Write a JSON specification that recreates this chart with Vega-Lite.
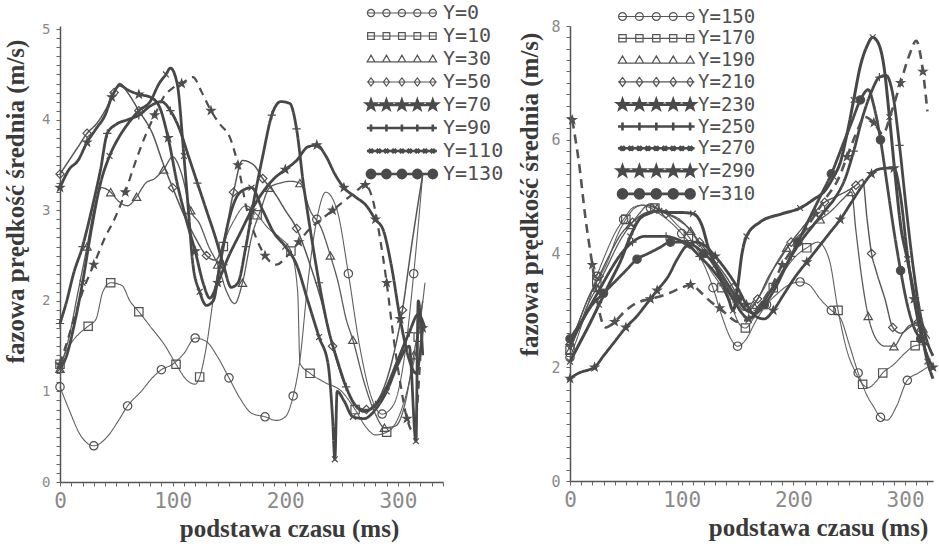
{
"$schema":"https://vega.github.io/schema/vega-lite/v6.json",
"padding":{"left":3,"top":3,"right":6,"bottom":5},
"background":"white",
"bounds":"flush",
"spacing":127,
"config":{"view":{"stroke":null},
"axis":{"grid":false,"domainColor":"#555","domainWidth":1.5,"tickColor":"#666","tickWidth":1,"tickSize":4,"labelFont":"DejaVu Sans Mono","labelColor":"#8a8a8a","titleFont":"Liberation Serif","titleFontWeight":"bold","titleFontSize":25,"titleColor":"#3a3a3a","labelFlush":false}},
"datasets":{
"left":[
{"s":"Y=0","i":0,"t":0,"v":1.05},{"s":"Y=0","i":1,"t":8,"v":0.8},{"s":"Y=0","i":2,"t":18,"v":0.52},{"s":"Y=0","i":3,"t":30,"v":0.4},{"s":"Y=0","i":4,"t":42,"v":0.5},{"s":"Y=0","i":5,"t":52,"v":0.68},{"s":"Y=0","i":6,"t":60,"v":0.84},{"s":"Y=0","i":7,"t":72,"v":1.0},{"s":"Y=0","i":8,"t":82,"v":1.15},{"s":"Y=0","i":9,"t":90,"v":1.24},{"s":"Y=0","i":10,"t":100,"v":1.3},{"s":"Y=0","i":11,"t":110,"v":1.42},{"s":"Y=0","i":12,"t":120,"v":1.59},{"s":"Y=0","i":13,"t":130,"v":1.55},{"s":"Y=0","i":14,"t":140,"v":1.38},{"s":"Y=0","i":15,"t":150,"v":1.15},{"s":"Y=0","i":16,"t":160,"v":0.92},{"s":"Y=0","i":17,"t":170,"v":0.76},{"s":"Y=0","i":18,"t":182,"v":0.72},{"s":"Y=0","i":19,"t":192,"v":0.68},{"s":"Y=0","i":20,"t":200,"v":0.72},{"s":"Y=0","i":21,"t":207,"v":0.95},{"s":"Y=0","i":22,"t":213,"v":1.35},{"s":"Y=0","i":23,"t":220,"v":2.2},{"s":"Y=0","i":24,"t":228,"v":2.9},{"s":"Y=0","i":25,"t":236,"v":3.2},{"s":"Y=0","i":26,"t":246,"v":3.0},{"s":"Y=0","i":27,"t":256,"v":2.3},{"s":"Y=0","i":28,"t":266,"v":1.5},{"s":"Y=0","i":29,"t":276,"v":0.95},{"s":"Y=0","i":30,"t":286,"v":0.75},{"s":"Y=0","i":31,"t":296,"v":0.85},{"s":"Y=0","i":32,"t":306,"v":1.4},{"s":"Y=0","i":33,"t":314,"v":2.3},{"s":"Y=0","i":34,"t":322,"v":3.4},
{"s":"Y=10","i":0,"t":0,"v":1.3},{"s":"Y=10","i":1,"t":8,"v":1.5},{"s":"Y=10","i":2,"t":18,"v":1.65},{"s":"Y=10","i":3,"t":25,"v":1.72},{"s":"Y=10","i":4,"t":32,"v":1.8},{"s":"Y=10","i":5,"t":38,"v":2.1},{"s":"Y=10","i":6,"t":45,"v":2.2},{"s":"Y=10","i":7,"t":55,"v":2.17},{"s":"Y=10","i":8,"t":62,"v":2.0},{"s":"Y=10","i":9,"t":70,"v":1.88},{"s":"Y=10","i":10,"t":80,"v":1.72},{"s":"Y=10","i":11,"t":93,"v":1.51},{"s":"Y=10","i":12,"t":103,"v":1.3},{"s":"Y=10","i":13,"t":113,"v":1.12},{"s":"Y=10","i":14,"t":120,"v":1.08},{"s":"Y=10","i":15,"t":124,"v":1.16},{"s":"Y=10","i":16,"t":130,"v":1.5},{"s":"Y=10","i":17,"t":137,"v":2.1},{"s":"Y=10","i":18,"t":145,"v":2.6},{"s":"Y=10","i":19,"t":155,"v":2.9},{"s":"Y=10","i":20,"t":165,"v":3.05},{"s":"Y=10","i":21,"t":175,"v":2.95},{"s":"Y=10","i":22,"t":185,"v":2.8},{"s":"Y=10","i":23,"t":195,"v":2.7},{"s":"Y=10","i":24,"t":205,"v":2.55},{"s":"Y=10","i":25,"t":211,"v":2.1},{"s":"Y=10","i":26,"t":213,"v":1.31},{"s":"Y=10","i":27,"t":222,"v":1.2},{"s":"Y=10","i":28,"t":235,"v":1.1},{"s":"Y=10","i":29,"t":250,"v":1.0},{"s":"Y=10","i":30,"t":262,"v":0.8},{"s":"Y=10","i":31,"t":272,"v":0.6},{"s":"Y=10","i":32,"t":280,"v":0.52},{"s":"Y=10","i":33,"t":290,"v":0.55},{"s":"Y=10","i":34,"t":300,"v":0.7},{"s":"Y=10","i":35,"t":310,"v":1.1},{"s":"Y=10","i":36,"t":318,"v":1.6},{"s":"Y=10","i":37,"t":324,"v":2.2},
{"s":"Y=30","i":0,"t":0,"v":1.25},{"s":"Y=30","i":1,"t":8,"v":1.6},{"s":"Y=30","i":2,"t":16,"v":2.1},{"s":"Y=30","i":3,"t":24,"v":2.6},{"s":"Y=30","i":4,"t":30,"v":3.0},{"s":"Y=30","i":5,"t":37,"v":3.25},{"s":"Y=30","i":6,"t":45,"v":3.2},{"s":"Y=30","i":7,"t":52,"v":3.1},{"s":"Y=30","i":8,"t":60,"v":3.05},{"s":"Y=30","i":9,"t":68,"v":3.15},{"s":"Y=30","i":10,"t":76,"v":3.3},{"s":"Y=30","i":11,"t":84,"v":3.35},{"s":"Y=30","i":12,"t":92,"v":3.45},{"s":"Y=30","i":13,"t":100,"v":3.59},{"s":"Y=30","i":14,"t":108,"v":3.4},{"s":"Y=30","i":15,"t":116,"v":3.0},{"s":"Y=30","i":16,"t":124,"v":2.85},{"s":"Y=30","i":17,"t":132,"v":2.6},{"s":"Y=30","i":18,"t":140,"v":2.4},{"s":"Y=30","i":19,"t":148,"v":2.1},{"s":"Y=30","i":20,"t":155,"v":1.97},{"s":"Y=30","i":21,"t":162,"v":2.2},{"s":"Y=30","i":22,"t":170,"v":2.7},{"s":"Y=30","i":23,"t":178,"v":3.0},{"s":"Y=30","i":24,"t":186,"v":3.25},{"s":"Y=30","i":25,"t":195,"v":3.3},{"s":"Y=30","i":26,"t":205,"v":3.32},{"s":"Y=30","i":27,"t":213,"v":3.3},{"s":"Y=30","i":28,"t":222,"v":3.0},{"s":"Y=30","i":29,"t":232,"v":2.8},{"s":"Y=30","i":30,"t":240,"v":2.5},{"s":"Y=30","i":31,"t":247,"v":2.2},{"s":"Y=30","i":32,"t":254,"v":1.8},{"s":"Y=30","i":33,"t":260,"v":1.57},{"s":"Y=30","i":34,"t":270,"v":1.1},{"s":"Y=30","i":35,"t":280,"v":0.75},{"s":"Y=30","i":36,"t":288,"v":0.6},{"s":"Y=30","i":37,"t":298,"v":0.62},{"s":"Y=30","i":38,"t":306,"v":0.85},{"s":"Y=30","i":39,"t":314,"v":1.4},{"s":"Y=30","i":40,"t":322,"v":2.0},
{"s":"Y=50","i":0,"t":0,"v":3.4},{"s":"Y=50","i":1,"t":8,"v":3.55},{"s":"Y=50","i":2,"t":16,"v":3.7},{"s":"Y=50","i":3,"t":24,"v":3.85},{"s":"Y=50","i":4,"t":32,"v":3.95},{"s":"Y=50","i":5,"t":40,"v":4.1},{"s":"Y=50","i":6,"t":48,"v":4.3},{"s":"Y=50","i":7,"t":53,"v":4.4},{"s":"Y=50","i":8,"t":60,"v":4.3},{"s":"Y=50","i":9,"t":70,"v":4.1},{"s":"Y=50","i":10,"t":82,"v":3.85},{"s":"Y=50","i":11,"t":92,"v":3.5},{"s":"Y=50","i":12,"t":100,"v":3.25},{"s":"Y=50","i":13,"t":110,"v":2.95},{"s":"Y=50","i":14,"t":120,"v":2.7},{"s":"Y=50","i":15,"t":130,"v":2.5},{"s":"Y=50","i":16,"t":138,"v":2.45},{"s":"Y=50","i":17,"t":146,"v":2.7},{"s":"Y=50","i":18,"t":154,"v":3.2},{"s":"Y=50","i":19,"t":162,"v":3.55},{"s":"Y=50","i":20,"t":172,"v":3.5},{"s":"Y=50","i":21,"t":180,"v":3.35},{"s":"Y=50","i":22,"t":190,"v":3.2},{"s":"Y=50","i":23,"t":200,"v":3.0},{"s":"Y=50","i":24,"t":210,"v":2.8},{"s":"Y=50","i":25,"t":222,"v":2.4},{"s":"Y=50","i":26,"t":232,"v":2.0},{"s":"Y=50","i":27,"t":242,"v":1.5},{"s":"Y=50","i":28,"t":252,"v":1.1},{"s":"Y=50","i":29,"t":262,"v":0.85},{"s":"Y=50","i":30,"t":272,"v":0.8},{"s":"Y=50","i":31,"t":282,"v":0.9},{"s":"Y=50","i":32,"t":294,"v":1.3},{"s":"Y=50","i":33,"t":304,"v":1.9},{"s":"Y=50","i":34,"t":312,"v":2.6},{"s":"Y=50","i":35,"t":322,"v":3.4},
{"s":"Y=70","i":0,"t":0,"v":3.25},{"s":"Y=70","i":1,"t":8,"v":3.45},{"s":"Y=70","i":2,"t":16,"v":3.55},{"s":"Y=70","i":3,"t":24,"v":3.75},{"s":"Y=70","i":4,"t":32,"v":3.9},{"s":"Y=70","i":5,"t":40,"v":4.05},{"s":"Y=70","i":6,"t":46,"v":4.25},{"s":"Y=70","i":7,"t":53,"v":4.38},{"s":"Y=70","i":8,"t":60,"v":4.33},{"s":"Y=70","i":9,"t":70,"v":4.28},{"s":"Y=70","i":10,"t":80,"v":4.25},{"s":"Y=70","i":11,"t":88,"v":4.15},{"s":"Y=70","i":12,"t":96,"v":3.8},{"s":"Y=70","i":13,"t":104,"v":3.3},{"s":"Y=70","i":14,"t":112,"v":2.9},{"s":"Y=70","i":15,"t":120,"v":2.55},{"s":"Y=70","i":16,"t":127,"v":2.2},{"s":"Y=70","i":17,"t":133,"v":2.03},{"s":"Y=70","i":18,"t":140,"v":2.2},{"s":"Y=70","i":19,"t":150,"v":2.5},{"s":"Y=70","i":20,"t":160,"v":2.75},{"s":"Y=70","i":21,"t":170,"v":3.0},{"s":"Y=70","i":22,"t":180,"v":3.2},{"s":"Y=70","i":23,"t":190,"v":3.35},{"s":"Y=70","i":24,"t":200,"v":3.45},{"s":"Y=70","i":25,"t":210,"v":3.55},{"s":"Y=70","i":26,"t":220,"v":3.7},{"s":"Y=70","i":27,"t":228,"v":3.72},{"s":"Y=70","i":28,"t":236,"v":3.6},{"s":"Y=70","i":29,"t":244,"v":3.4},{"s":"Y=70","i":30,"t":252,"v":3.25},{"s":"Y=70","i":31,"t":262,"v":3.15},{"s":"Y=70","i":32,"t":272,"v":3.05},{"s":"Y=70","i":33,"t":280,"v":2.9},{"s":"Y=70","i":34,"t":287,"v":2.78},{"s":"Y=70","i":35,"t":294,"v":2.4},{"s":"Y=70","i":36,"t":302,"v":1.8},{"s":"Y=70","i":37,"t":310,"v":1.35},{"s":"Y=70","i":38,"t":316,"v":1.2},{"s":"Y=70","i":39,"t":322,"v":1.7},
{"s":"Y=90","i":0,"t":0,"v":1.75},{"s":"Y=90","i":1,"t":6,"v":2.0},{"s":"Y=90","i":2,"t":12,"v":2.3},{"s":"Y=90","i":3,"t":20,"v":2.6},{"s":"Y=90","i":4,"t":28,"v":3.0},{"s":"Y=90","i":5,"t":36,"v":3.45},{"s":"Y=90","i":6,"t":42,"v":3.85},{"s":"Y=90","i":7,"t":50,"v":3.95},{"s":"Y=90","i":8,"t":60,"v":4.0},{"s":"Y=90","i":9,"t":70,"v":4.05},{"s":"Y=90","i":10,"t":80,"v":4.15},{"s":"Y=90","i":11,"t":90,"v":4.2},{"s":"Y=90","i":12,"t":98,"v":4.1},{"s":"Y=90","i":13,"t":106,"v":3.9},{"s":"Y=90","i":14,"t":114,"v":3.6},{"s":"Y=90","i":15,"t":122,"v":3.3},{"s":"Y=90","i":16,"t":130,"v":3.0},{"s":"Y=90","i":17,"t":138,"v":2.7},{"s":"Y=90","i":18,"t":145,"v":2.4},{"s":"Y=90","i":19,"t":152,"v":2.15},{"s":"Y=90","i":20,"t":158,"v":2.2},{"s":"Y=90","i":21,"t":165,"v":2.6},{"s":"Y=90","i":22,"t":172,"v":3.1},{"s":"Y=90","i":23,"t":180,"v":3.6},{"s":"Y=90","i":24,"t":188,"v":4.05},{"s":"Y=90","i":25,"t":196,"v":4.2},{"s":"Y=90","i":26,"t":204,"v":4.18},{"s":"Y=90","i":27,"t":210,"v":3.9},{"s":"Y=90","i":28,"t":216,"v":3.3},{"s":"Y=90","i":29,"t":222,"v":2.8},{"s":"Y=90","i":30,"t":230,"v":2.2},{"s":"Y=90","i":31,"t":238,"v":1.7},{"s":"Y=90","i":32,"t":246,"v":1.35},{"s":"Y=90","i":33,"t":254,"v":1.05},{"s":"Y=90","i":34,"t":262,"v":0.85},{"s":"Y=90","i":35,"t":270,"v":0.78},{"s":"Y=90","i":36,"t":280,"v":0.85},{"s":"Y=90","i":37,"t":290,"v":1.05},{"s":"Y=90","i":38,"t":300,"v":1.35},{"s":"Y=90","i":39,"t":310,"v":1.65},{"s":"Y=90","i":40,"t":318,"v":1.85},{"s":"Y=90","i":41,"t":324,"v":1.7},
{"s":"Y=110","i":0,"t":0,"v":1.25},{"s":"Y=110","i":1,"t":6,"v":1.4},{"s":"Y=110","i":2,"t":12,"v":1.7},{"s":"Y=110","i":3,"t":20,"v":2.2},{"s":"Y=110","i":4,"t":28,"v":2.8},{"s":"Y=110","i":5,"t":36,"v":3.3},{"s":"Y=110","i":6,"t":44,"v":3.6},{"s":"Y=110","i":7,"t":52,"v":3.8},{"s":"Y=110","i":8,"t":60,"v":3.95},{"s":"Y=110","i":9,"t":70,"v":4.1},{"s":"Y=110","i":10,"t":80,"v":4.2},{"s":"Y=110","i":11,"t":88,"v":4.4},{"s":"Y=110","i":12,"t":94,"v":4.5},{"s":"Y=110","i":13,"t":98,"v":4.57},{"s":"Y=110","i":14,"t":104,"v":4.4},{"s":"Y=110","i":15,"t":110,"v":3.6},{"s":"Y=110","i":16,"t":114,"v":3.0},{"s":"Y=110","i":17,"t":118,"v":2.4},{"s":"Y=110","i":18,"t":124,"v":2.1},{"s":"Y=110","i":19,"t":130,"v":1.95},{"s":"Y=110","i":20,"t":136,"v":2.0},{"s":"Y=110","i":21,"t":142,"v":2.4},{"s":"Y=110","i":22,"t":150,"v":2.9},{"s":"Y=110","i":23,"t":160,"v":3.2},{"s":"Y=110","i":24,"t":170,"v":3.25},{"s":"Y=110","i":25,"t":180,"v":3.0},{"s":"Y=110","i":26,"t":190,"v":2.75},{"s":"Y=110","i":27,"t":200,"v":2.6},{"s":"Y=110","i":28,"t":210,"v":2.4},{"s":"Y=110","i":29,"t":220,"v":2.0},{"s":"Y=110","i":30,"t":230,"v":1.6},{"s":"Y=110","i":31,"t":238,"v":1.3},{"s":"Y=110","i":32,"t":242,"v":0.7},{"s":"Y=110","i":33,"t":244,"v":0.25},{"s":"Y=110","i":34,"t":246,"v":1.0},{"s":"Y=110","i":35,"t":252,"v":0.9},{"s":"Y=110","i":36,"t":260,"v":0.72},{"s":"Y=110","i":37,"t":270,"v":0.7},{"s":"Y=110","i":38,"t":280,"v":0.8},{"s":"Y=110","i":39,"t":290,"v":1.0},{"s":"Y=110","i":40,"t":300,"v":1.3},{"s":"Y=110","i":41,"t":310,"v":1.5},{"s":"Y=110","i":42,"t":316,"v":0.45},{"s":"Y=110","i":43,"t":318,"v":2.0},{"s":"Y=110","i":44,"t":322,"v":1.4},
{"s":"Y=130","i":0,"t":0,"v":1.3},{"s":"Y=130","i":1,"t":10,"v":1.7},{"s":"Y=130","i":2,"t":20,"v":2.1},{"s":"Y=130","i":3,"t":30,"v":2.4},{"s":"Y=130","i":4,"t":40,"v":2.7},{"s":"Y=130","i":5,"t":49,"v":2.92},{"s":"Y=130","i":6,"t":58,"v":3.2},{"s":"Y=130","i":7,"t":66,"v":3.5},{"s":"Y=130","i":8,"t":75,"v":3.8},{"s":"Y=130","i":9,"t":84,"v":4.05},{"s":"Y=130","i":10,"t":92,"v":4.25},{"s":"Y=130","i":11,"t":100,"v":4.35},{"s":"Y=130","i":12,"t":108,"v":4.4},{"s":"Y=130","i":13,"t":118,"v":4.47},{"s":"Y=130","i":14,"t":126,"v":4.3},{"s":"Y=130","i":15,"t":134,"v":4.1},{"s":"Y=130","i":16,"t":142,"v":3.95},{"s":"Y=130","i":17,"t":151,"v":3.8},{"s":"Y=130","i":18,"t":158,"v":3.5},{"s":"Y=130","i":19,"t":166,"v":3.0},{"s":"Y=130","i":20,"t":174,"v":2.7},{"s":"Y=130","i":21,"t":182,"v":2.5},{"s":"Y=130","i":22,"t":192,"v":2.4},{"s":"Y=130","i":23,"t":202,"v":2.5},{"s":"Y=130","i":24,"t":212,"v":2.65},{"s":"Y=130","i":25,"t":222,"v":2.8},{"s":"Y=130","i":26,"t":232,"v":2.9},{"s":"Y=130","i":27,"t":242,"v":3.0},{"s":"Y=130","i":28,"t":252,"v":3.1},{"s":"Y=130","i":29,"t":262,"v":3.2},{"s":"Y=130","i":30,"t":271,"v":3.28},{"s":"Y=130","i":31,"t":278,"v":3.1},{"s":"Y=130","i":32,"t":284,"v":2.7},{"s":"Y=130","i":33,"t":290,"v":2.2},{"s":"Y=130","i":34,"t":296,"v":1.6},{"s":"Y=130","i":35,"t":302,"v":1.1},{"s":"Y=130","i":36,"t":308,"v":0.7},{"s":"Y=130","i":37,"t":314,"v":0.55},{"s":"Y=130","i":38,"t":320,"v":1.4}
],
"right":[
{"s":"Y=150","i":0,"t":0,"v":2.17},{"s":"Y=150","i":1,"t":8,"v":2.6},{"s":"Y=150","i":2,"t":16,"v":3.1},{"s":"Y=150","i":3,"t":24,"v":3.6},{"s":"Y=150","i":4,"t":32,"v":4.0},{"s":"Y=150","i":5,"t":40,"v":4.35},{"s":"Y=150","i":6,"t":48,"v":4.6},{"s":"Y=150","i":7,"t":56,"v":4.8},{"s":"Y=150","i":8,"t":64,"v":4.85},{"s":"Y=150","i":9,"t":72,"v":4.8},{"s":"Y=150","i":10,"t":80,"v":4.7},{"s":"Y=150","i":11,"t":90,"v":4.55},{"s":"Y=150","i":12,"t":100,"v":4.35},{"s":"Y=150","i":13,"t":110,"v":4.1},{"s":"Y=150","i":14,"t":120,"v":3.8},{"s":"Y=150","i":15,"t":128,"v":3.4},{"s":"Y=150","i":16,"t":136,"v":2.9},{"s":"Y=150","i":17,"t":144,"v":2.5},{"s":"Y=150","i":18,"t":150,"v":2.37},{"s":"Y=150","i":19,"t":158,"v":2.5},{"s":"Y=150","i":20,"t":166,"v":2.8},{"s":"Y=150","i":21,"t":176,"v":3.1},{"s":"Y=150","i":22,"t":186,"v":3.3},{"s":"Y=150","i":23,"t":196,"v":3.45},{"s":"Y=150","i":24,"t":206,"v":3.5},{"s":"Y=150","i":25,"t":214,"v":3.45},{"s":"Y=150","i":26,"t":224,"v":3.2},{"s":"Y=150","i":27,"t":234,"v":3.0},{"s":"Y=150","i":28,"t":242,"v":2.87},{"s":"Y=150","i":29,"t":250,"v":2.4},{"s":"Y=150","i":30,"t":258,"v":1.9},{"s":"Y=150","i":31,"t":266,"v":1.5},{"s":"Y=150","i":32,"t":272,"v":1.3},{"s":"Y=150","i":33,"t":278,"v":1.12},{"s":"Y=150","i":34,"t":284,"v":1.07},{"s":"Y=150","i":35,"t":292,"v":1.3},{"s":"Y=150","i":36,"t":302,"v":1.77},{"s":"Y=150","i":37,"t":312,"v":1.9},{"s":"Y=150","i":38,"t":320,"v":2.0},
{"s":"Y=170","i":0,"t":0,"v":2.3},{"s":"Y=170","i":1,"t":8,"v":2.8},{"s":"Y=170","i":2,"t":16,"v":3.2},{"s":"Y=170","i":3,"t":24,"v":3.5},{"s":"Y=170","i":4,"t":33,"v":3.83},{"s":"Y=170","i":5,"t":42,"v":4.3},{"s":"Y=170","i":6,"t":50,"v":4.6},{"s":"Y=170","i":7,"t":58,"v":4.8},{"s":"Y=170","i":8,"t":66,"v":4.85},{"s":"Y=170","i":9,"t":76,"v":4.8},{"s":"Y=170","i":10,"t":86,"v":4.7},{"s":"Y=170","i":11,"t":96,"v":4.5},{"s":"Y=170","i":12,"t":106,"v":4.3},{"s":"Y=170","i":13,"t":116,"v":4.0},{"s":"Y=170","i":14,"t":126,"v":3.7},{"s":"Y=170","i":15,"t":136,"v":3.4},{"s":"Y=170","i":16,"t":146,"v":3.0},{"s":"Y=170","i":17,"t":152,"v":2.75},{"s":"Y=170","i":18,"t":157,"v":2.69},{"s":"Y=170","i":19,"t":164,"v":2.85},{"s":"Y=170","i":20,"t":172,"v":3.1},{"s":"Y=170","i":21,"t":182,"v":3.4},{"s":"Y=170","i":22,"t":192,"v":3.7},{"s":"Y=170","i":23,"t":202,"v":3.95},{"s":"Y=170","i":24,"t":212,"v":4.1},{"s":"Y=170","i":25,"t":222,"v":4.2},{"s":"Y=170","i":26,"t":232,"v":3.9},{"s":"Y=170","i":27,"t":240,"v":3.0},{"s":"Y=170","i":28,"t":248,"v":2.29},{"s":"Y=170","i":29,"t":256,"v":1.9},{"s":"Y=170","i":30,"t":262,"v":1.7},{"s":"Y=170","i":31,"t":267,"v":1.64},{"s":"Y=170","i":32,"t":274,"v":1.75},{"s":"Y=170","i":33,"t":280,"v":1.9},{"s":"Y=170","i":34,"t":290,"v":2.05},{"s":"Y=170","i":35,"t":300,"v":2.25},{"s":"Y=170","i":36,"t":309,"v":2.38},{"s":"Y=170","i":37,"t":318,"v":2.4},
{"s":"Y=190","i":0,"t":0,"v":2.3},{"s":"Y=190","i":1,"t":8,"v":2.7},{"s":"Y=190","i":2,"t":16,"v":3.1},{"s":"Y=190","i":3,"t":24,"v":3.4},{"s":"Y=190","i":4,"t":34,"v":3.8},{"s":"Y=190","i":5,"t":44,"v":4.2},{"s":"Y=190","i":6,"t":54,"v":4.5},{"s":"Y=190","i":7,"t":62,"v":4.7},{"s":"Y=190","i":8,"t":70,"v":4.85},{"s":"Y=190","i":9,"t":78,"v":4.8},{"s":"Y=190","i":10,"t":88,"v":4.7},{"s":"Y=190","i":11,"t":98,"v":4.6},{"s":"Y=190","i":12,"t":108,"v":4.4},{"s":"Y=190","i":13,"t":118,"v":4.1},{"s":"Y=190","i":14,"t":128,"v":3.8},{"s":"Y=190","i":15,"t":138,"v":3.5},{"s":"Y=190","i":16,"t":148,"v":3.2},{"s":"Y=190","i":17,"t":156,"v":3.0},{"s":"Y=190","i":18,"t":164,"v":3.1},{"s":"Y=190","i":19,"t":174,"v":3.4},{"s":"Y=190","i":20,"t":184,"v":3.8},{"s":"Y=190","i":21,"t":194,"v":4.1},{"s":"Y=190","i":22,"t":204,"v":4.3},{"s":"Y=190","i":23,"t":214,"v":4.45},{"s":"Y=190","i":24,"t":224,"v":4.6},{"s":"Y=190","i":25,"t":234,"v":4.75},{"s":"Y=190","i":26,"t":244,"v":4.95},{"s":"Y=190","i":27,"t":252,"v":5.08},{"s":"Y=190","i":28,"t":256,"v":4.4},{"s":"Y=190","i":29,"t":261,"v":3.6},{"s":"Y=190","i":30,"t":267,"v":2.9},{"s":"Y=190","i":31,"t":274,"v":2.5},{"s":"Y=190","i":32,"t":282,"v":2.37},{"s":"Y=190","i":33,"t":290,"v":2.37},{"s":"Y=190","i":34,"t":298,"v":2.6},{"s":"Y=190","i":35,"t":306,"v":2.75},{"s":"Y=190","i":36,"t":314,"v":2.7},{"s":"Y=190","i":37,"t":322,"v":2.5},
{"s":"Y=210","i":0,"t":0,"v":2.4},{"s":"Y=210","i":1,"t":8,"v":2.8},{"s":"Y=210","i":2,"t":16,"v":3.2},{"s":"Y=210","i":3,"t":26,"v":3.6},{"s":"Y=210","i":4,"t":36,"v":4.0},{"s":"Y=210","i":5,"t":46,"v":4.35},{"s":"Y=210","i":6,"t":56,"v":4.55},{"s":"Y=210","i":7,"t":66,"v":4.7},{"s":"Y=210","i":8,"t":76,"v":4.75},{"s":"Y=210","i":9,"t":86,"v":4.7},{"s":"Y=210","i":10,"t":96,"v":4.6},{"s":"Y=210","i":11,"t":106,"v":4.45},{"s":"Y=210","i":12,"t":116,"v":4.2},{"s":"Y=210","i":13,"t":126,"v":3.95},{"s":"Y=210","i":14,"t":136,"v":3.7},{"s":"Y=210","i":15,"t":146,"v":3.4},{"s":"Y=210","i":16,"t":154,"v":3.1},{"s":"Y=210","i":17,"t":160,"v":3.0},{"s":"Y=210","i":18,"t":168,"v":3.2},{"s":"Y=210","i":19,"t":178,"v":3.6},{"s":"Y=210","i":20,"t":188,"v":3.9},{"s":"Y=210","i":21,"t":198,"v":4.2},{"s":"Y=210","i":22,"t":208,"v":4.45},{"s":"Y=210","i":23,"t":218,"v":4.7},{"s":"Y=210","i":24,"t":228,"v":4.9},{"s":"Y=210","i":25,"t":238,"v":5.0},{"s":"Y=210","i":26,"t":248,"v":5.1},{"s":"Y=210","i":27,"t":256,"v":5.2},{"s":"Y=210","i":28,"t":262,"v":5.3},{"s":"Y=210","i":29,"t":266,"v":4.6},{"s":"Y=210","i":30,"t":270,"v":4.0},{"s":"Y=210","i":31,"t":274,"v":3.7},{"s":"Y=210","i":32,"t":282,"v":3.2},{"s":"Y=210","i":33,"t":289,"v":2.7},{"s":"Y=210","i":34,"t":296,"v":2.6},{"s":"Y=210","i":35,"t":304,"v":2.7},{"s":"Y=210","i":36,"t":312,"v":2.8},{"s":"Y=210","i":37,"t":320,"v":2.6},
{"s":"Y=230","i":0,"t":0,"v":1.8},{"s":"Y=230","i":1,"t":8,"v":1.9},{"s":"Y=230","i":2,"t":16,"v":1.95},{"s":"Y=230","i":3,"t":22,"v":2.0},{"s":"Y=230","i":4,"t":30,"v":2.2},{"s":"Y=230","i":5,"t":40,"v":2.45},{"s":"Y=230","i":6,"t":50,"v":2.7},{"s":"Y=230","i":7,"t":60,"v":2.9},{"s":"Y=230","i":8,"t":68,"v":3.1},{"s":"Y=230","i":9,"t":78,"v":3.35},{"s":"Y=230","i":10,"t":88,"v":3.6},{"s":"Y=230","i":11,"t":96,"v":3.9},{"s":"Y=230","i":12,"t":105,"v":4.15},{"s":"Y=230","i":13,"t":112,"v":4.2},{"s":"Y=230","i":14,"t":120,"v":4.15},{"s":"Y=230","i":15,"t":130,"v":3.95},{"s":"Y=230","i":16,"t":140,"v":3.7},{"s":"Y=230","i":17,"t":150,"v":3.4},{"s":"Y=230","i":18,"t":158,"v":3.1},{"s":"Y=230","i":19,"t":166,"v":2.9},{"s":"Y=230","i":20,"t":174,"v":2.85},{"s":"Y=230","i":21,"t":182,"v":3.0},{"s":"Y=230","i":22,"t":192,"v":3.3},{"s":"Y=230","i":23,"t":202,"v":3.6},{"s":"Y=230","i":24,"t":212,"v":3.85},{"s":"Y=230","i":25,"t":222,"v":4.1},{"s":"Y=230","i":26,"t":232,"v":4.35},{"s":"Y=230","i":27,"t":242,"v":4.6},{"s":"Y=230","i":28,"t":252,"v":4.9},{"s":"Y=230","i":29,"t":262,"v":5.2},{"s":"Y=230","i":30,"t":270,"v":5.4},{"s":"Y=230","i":31,"t":276,"v":5.48},{"s":"Y=230","i":32,"t":284,"v":5.5},{"s":"Y=230","i":33,"t":290,"v":5.5},{"s":"Y=230","i":34,"t":296,"v":5.0},{"s":"Y=230","i":35,"t":302,"v":4.0},{"s":"Y=230","i":36,"t":308,"v":3.2},{"s":"Y=230","i":37,"t":314,"v":2.6},{"s":"Y=230","i":38,"t":320,"v":2.2},{"s":"Y=230","i":39,"t":325,"v":2.0},
{"s":"Y=250","i":0,"t":0,"v":2.4},{"s":"Y=250","i":1,"t":8,"v":2.7},{"s":"Y=250","i":2,"t":16,"v":3.0},{"s":"Y=250","i":3,"t":26,"v":3.35},{"s":"Y=250","i":4,"t":36,"v":3.7},{"s":"Y=250","i":5,"t":46,"v":4.0},{"s":"Y=250","i":6,"t":56,"v":4.2},{"s":"Y=250","i":7,"t":66,"v":4.3},{"s":"Y=250","i":8,"t":76,"v":4.3},{"s":"Y=250","i":9,"t":86,"v":4.3},{"s":"Y=250","i":10,"t":96,"v":4.25},{"s":"Y=250","i":11,"t":106,"v":4.15},{"s":"Y=250","i":12,"t":116,"v":3.95},{"s":"Y=250","i":13,"t":126,"v":3.75},{"s":"Y=250","i":14,"t":136,"v":3.5},{"s":"Y=250","i":15,"t":146,"v":3.2},{"s":"Y=250","i":16,"t":154,"v":2.95},{"s":"Y=250","i":17,"t":160,"v":2.85},{"s":"Y=250","i":18,"t":168,"v":3.0},{"s":"Y=250","i":19,"t":178,"v":3.3},{"s":"Y=250","i":20,"t":188,"v":3.6},{"s":"Y=250","i":21,"t":198,"v":3.95},{"s":"Y=250","i":22,"t":208,"v":4.25},{"s":"Y=250","i":23,"t":218,"v":4.5},{"s":"Y=250","i":24,"t":228,"v":4.75},{"s":"Y=250","i":25,"t":238,"v":5.0},{"s":"Y=250","i":26,"t":246,"v":5.3},{"s":"Y=250","i":27,"t":254,"v":5.8},{"s":"Y=250","i":28,"t":262,"v":6.4},{"s":"Y=250","i":29,"t":270,"v":6.85},{"s":"Y=250","i":30,"t":277,"v":7.1},{"s":"Y=250","i":31,"t":283,"v":7.13},{"s":"Y=250","i":32,"t":289,"v":6.8},{"s":"Y=250","i":33,"t":295,"v":5.9},{"s":"Y=250","i":34,"t":301,"v":4.8},{"s":"Y=250","i":35,"t":307,"v":3.8},{"s":"Y=250","i":36,"t":313,"v":3.0},{"s":"Y=250","i":37,"t":319,"v":2.5},{"s":"Y=250","i":38,"t":325,"v":2.2},
{"s":"Y=270","i":0,"t":0,"v":2.1},{"s":"Y=270","i":1,"t":8,"v":2.4},{"s":"Y=270","i":2,"t":16,"v":2.7},{"s":"Y=270","i":3,"t":26,"v":3.1},{"s":"Y=270","i":4,"t":36,"v":3.5},{"s":"Y=270","i":5,"t":46,"v":3.9},{"s":"Y=270","i":6,"t":54,"v":4.3},{"s":"Y=270","i":7,"t":62,"v":4.6},{"s":"Y=270","i":8,"t":70,"v":4.7},{"s":"Y=270","i":9,"t":80,"v":4.75},{"s":"Y=270","i":10,"t":90,"v":4.72},{"s":"Y=270","i":11,"t":100,"v":4.72},{"s":"Y=270","i":12,"t":110,"v":4.7},{"s":"Y=270","i":13,"t":118,"v":4.5},{"s":"Y=270","i":14,"t":124,"v":4.1},{"s":"Y=270","i":15,"t":130,"v":3.8},{"s":"Y=270","i":16,"t":136,"v":3.5},{"s":"Y=270","i":17,"t":142,"v":3.2},{"s":"Y=270","i":18,"t":146,"v":3.0},{"s":"Y=270","i":19,"t":150,"v":3.4},{"s":"Y=270","i":20,"t":154,"v":4.0},{"s":"Y=270","i":21,"t":158,"v":4.3},{"s":"Y=270","i":22,"t":170,"v":4.55},{"s":"Y=270","i":23,"t":190,"v":4.7},{"s":"Y=270","i":24,"t":206,"v":4.8},{"s":"Y=270","i":25,"t":218,"v":4.95},{"s":"Y=270","i":26,"t":228,"v":5.1},{"s":"Y=270","i":27,"t":236,"v":5.35},{"s":"Y=270","i":28,"t":242,"v":5.6},{"s":"Y=270","i":29,"t":248,"v":6.1},{"s":"Y=270","i":30,"t":254,"v":6.7},{"s":"Y=270","i":31,"t":260,"v":7.3},{"s":"Y=270","i":32,"t":266,"v":7.65},{"s":"Y=270","i":33,"t":271,"v":7.8},{"s":"Y=270","i":34,"t":276,"v":7.7},{"s":"Y=270","i":35,"t":281,"v":7.3},{"s":"Y=270","i":36,"t":286,"v":6.4},{"s":"Y=270","i":37,"t":291,"v":5.4},{"s":"Y=270","i":38,"t":296,"v":4.5},{"s":"Y=270","i":39,"t":302,"v":3.9},{"s":"Y=270","i":40,"t":308,"v":3.3},{"s":"Y=270","i":41,"t":314,"v":2.7},{"s":"Y=270","i":42,"t":320,"v":2.1},{"s":"Y=270","i":43,"t":325,"v":1.8},
{"s":"Y=290","i":0,"t":2,"v":6.35},{"s":"Y=290","i":1,"t":8,"v":5.6},{"s":"Y=290","i":2,"t":14,"v":4.6},{"s":"Y=290","i":3,"t":20,"v":3.8},{"s":"Y=290","i":4,"t":26,"v":3.0},{"s":"Y=290","i":5,"t":32,"v":2.7},{"s":"Y=290","i":6,"t":40,"v":2.8},{"s":"Y=290","i":7,"t":50,"v":3.0},{"s":"Y=290","i":8,"t":62,"v":3.15},{"s":"Y=290","i":9,"t":72,"v":3.2},{"s":"Y=290","i":10,"t":86,"v":3.28},{"s":"Y=290","i":11,"t":100,"v":3.4},{"s":"Y=290","i":12,"t":108,"v":3.45},{"s":"Y=290","i":13,"t":118,"v":3.3},{"s":"Y=290","i":14,"t":126,"v":3.15},{"s":"Y=290","i":15,"t":134,"v":3.04},{"s":"Y=290","i":16,"t":142,"v":2.9},{"s":"Y=290","i":17,"t":150,"v":2.8},{"s":"Y=290","i":18,"t":160,"v":2.85},{"s":"Y=290","i":19,"t":170,"v":3.1},{"s":"Y=290","i":20,"t":180,"v":3.4},{"s":"Y=290","i":21,"t":190,"v":3.8},{"s":"Y=290","i":22,"t":200,"v":4.1},{"s":"Y=290","i":23,"t":210,"v":4.4},{"s":"Y=290","i":24,"t":220,"v":4.7},{"s":"Y=290","i":25,"t":230,"v":5.0},{"s":"Y=290","i":26,"t":240,"v":5.3},{"s":"Y=290","i":27,"t":248,"v":5.7},{"s":"Y=290","i":28,"t":256,"v":6.1},{"s":"Y=290","i":29,"t":264,"v":6.4},{"s":"Y=290","i":30,"t":272,"v":6.3},{"s":"Y=290","i":31,"t":280,"v":6.1},{"s":"Y=290","i":32,"t":288,"v":6.5},{"s":"Y=290","i":33,"t":296,"v":7.0},{"s":"Y=290","i":34,"t":304,"v":7.5},{"s":"Y=290","i":35,"t":310,"v":7.74},{"s":"Y=290","i":36,"t":316,"v":7.2},{"s":"Y=290","i":37,"t":320,"v":6.5},
{"s":"Y=310","i":0,"t":0,"v":2.5},{"s":"Y=310","i":1,"t":10,"v":2.8},{"s":"Y=310","i":2,"t":20,"v":3.1},{"s":"Y=310","i":3,"t":30,"v":3.3},{"s":"Y=310","i":4,"t":40,"v":3.5},{"s":"Y=310","i":5,"t":50,"v":3.7},{"s":"Y=310","i":6,"t":60,"v":3.9},{"s":"Y=310","i":7,"t":70,"v":4.0},{"s":"Y=310","i":8,"t":80,"v":4.1},{"s":"Y=310","i":9,"t":90,"v":4.2},{"s":"Y=310","i":10,"t":100,"v":4.2},{"s":"Y=310","i":11,"t":110,"v":4.15},{"s":"Y=310","i":12,"t":120,"v":4.0},{"s":"Y=310","i":13,"t":130,"v":3.8},{"s":"Y=310","i":14,"t":140,"v":3.5},{"s":"Y=310","i":15,"t":150,"v":3.2},{"s":"Y=310","i":16,"t":158,"v":3.0},{"s":"Y=310","i":17,"t":166,"v":2.95},{"s":"Y=310","i":18,"t":174,"v":3.1},{"s":"Y=310","i":19,"t":184,"v":3.4},{"s":"Y=310","i":20,"t":194,"v":3.8},{"s":"Y=310","i":21,"t":204,"v":4.2},{"s":"Y=310","i":22,"t":214,"v":4.6},{"s":"Y=310","i":23,"t":224,"v":5.0},{"s":"Y=310","i":24,"t":234,"v":5.4},{"s":"Y=310","i":25,"t":244,"v":5.9},{"s":"Y=310","i":26,"t":252,"v":6.3},{"s":"Y=310","i":27,"t":260,"v":6.7},{"s":"Y=310","i":28,"t":267,"v":6.88},{"s":"Y=310","i":29,"t":272,"v":6.6},{"s":"Y=310","i":30,"t":278,"v":6.0},{"s":"Y=310","i":31,"t":284,"v":5.2},{"s":"Y=310","i":32,"t":290,"v":4.4},{"s":"Y=310","i":33,"t":296,"v":3.7},{"s":"Y=310","i":34,"t":302,"v":3.1},{"s":"Y=310","i":35,"t":308,"v":2.7},{"s":"Y=310","i":36,"t":314,"v":2.5},{"s":"Y=310","i":37,"t":320,"v":2.4}
]},
"hconcat":[
{"width":383,"height":456,"data":{"name":"left"},
"encoding":{
"x":{"field":"t","type":"quantitative","scale":{"domain":[0,340],"nice":false},"axis":{"title":"podstawa czasu (ms)","values":[0,10,20,30,40,50,60,70,80,90,100,110,120,130,140,150,160,170,180,190,200,210,220,230,240,250,260,270,280,290,300,310,320,330,340],"labelExpr":"datum.value % 100 === 0 ? datum.label : ''","labelFontSize":21,"labelPadding":4,"titleX":229,"titleY":54,"titleBaseline":"alphabetic","titleAlign":"center"}}},
"layer":[
{"mark":{"type":"line","interpolate":"monotone"},
"encoding":{
"y":{"field":"v","type":"quantitative","scale":{"domain":[0,5.035],"nice":false},"axis":{"orient":"left","title":"fazowa prędkość średnia (m/s)","values":[0,0.1,0.2,0.3,0.4,0.5,0.6,0.7,0.8,0.9,1,1.1,1.2,1.3,1.4,1.5,1.6,1.7,1.8,1.9,2,2.1,2.2,2.3,2.4,2.5,2.6,2.7,2.8,2.9,3,3.1,3.2,3.3,3.4,3.5,3.6,3.7,3.8,3.9,4,4.1,4.2,4.3,4.4,4.5,4.6,4.7,4.8,4.9,5],"labels":false,"titleX":-37,"titleY":175,"titleBaseline":"alphabetic","titleAlign":"center","titleAngle":-90}},
"order":{"field":"i","type":"quantitative"},
"stroke":{"field":"s","type":"nominal","scale":{"domain":["Y=0","Y=10","Y=30","Y=50","Y=70","Y=90","Y=110","Y=130"],"range":["#606060","#606060","#5a5a5a","#555555","#474747","#474747","#474747","#4d4d4d"]},"legend":null},
"strokeWidth":{"field":"s","type":"nominal","scale":{"type":"ordinal","domain":["Y=0","Y=10","Y=30","Y=50","Y=70","Y=90","Y=110","Y=130"],"range":[1.1,1.1,1.3,1.5,2.8,2.8,2.8,2.2]},"legend":null},
"strokeDash":{"field":"s","type":"nominal","scale":{"domain":["Y=0","Y=10","Y=30","Y=50","Y=70","Y=90","Y=110","Y=130"],"range":[[1,0],[1,0],[1,0],[1,0],[1,0],[1,0],[1,0],[8,6]]},"legend":null}}},
{"transform":[{"filter":"datum.i % 3 == 0"}],
"mark":{"type":"point","filled":true,"stroke":"#4f4f4f","strokeWidth":1.2,"opacity":1},
"encoding":{
"y":{"field":"v","type":"quantitative","axis":{"orient":"left","title":null,"values":[0,1,2,3,4,5],"ticks":false,"domain":false,"labelFontSize":14,"labelPadding":10}},
"shape":{"field":"s","type":"nominal","scale":{"domain":["Y=0","Y=10","Y=30","Y=50","Y=70","Y=90","Y=110","Y=130"],"range":["circle","square","triangle-up","diamond","M0,-1L0.24,-0.32L0.95,-0.31L0.38,0.12L0.59,0.81L0,0.4L-0.59,0.81L-0.38,0.12L-0.95,-0.31L-0.24,-0.32Z","M-1,0L1,0M0,-1L0,1","M-0.7,-0.7L0.7,0.7M-0.7,0.7L0.7,-0.7","M0,-1L0.24,-0.32L0.95,-0.31L0.38,0.12L0.59,0.81L0,0.4L-0.59,0.81L-0.38,0.12L-0.95,-0.31L-0.24,-0.32Z"]},"legend":null},
"fill":{"field":"s","type":"nominal","scale":{"domain":["Y=0","Y=10","Y=30","Y=50","Y=70","Y=90","Y=110","Y=130"],"range":["transparent","transparent","transparent","transparent","#474747","transparent","transparent","#4d4d4d"]},"legend":null},
"size":{"value":70}}},
{"transform":[{"filter":"false"}],
"mark":{"type":"point","filled":true,"opacity":1},
"encoding":{
"y":{"field":"v","type":"quantitative","axis":null},
"shape":{"field":"s","type":"nominal","scale":{"domain":["Y=0","Y=10","Y=30","Y=50","Y=70","Y=90","Y=110","Y=130"],"range":["M-0.8,0L12.8,0M0.7,0A0.7,0.7,0,1,1,-0.7,0A0.7,0.7,0,1,1,0.7,0M3.7,0A0.7,0.7,0,1,1,2.3,0A0.7,0.7,0,1,1,3.7,0M6.7,0A0.7,0.7,0,1,1,5.3,0A0.7,0.7,0,1,1,6.7,0M9.7,0A0.7,0.7,0,1,1,8.3,0A0.7,0.7,0,1,1,9.7,0M12.7,0A0.7,0.7,0,1,1,11.3,0A0.7,0.7,0,1,1,12.7,0","M-0.8,0L12.8,0M-0.65,-0.65L0.65,-0.65L0.65,0.65L-0.65,0.65ZM2.35,-0.65L3.65,-0.65L3.65,0.65L2.35,0.65ZM5.35,-0.65L6.65,-0.65L6.65,0.65L5.35,0.65ZM8.35,-0.65L9.65,-0.65L9.65,0.65L8.35,0.65ZM11.35,-0.65L12.65,-0.65L12.65,0.65L11.35,0.65Z","M-0.8,0.55L12.8,0.55M0,-0.75L0.75,0.55L-0.75,0.55ZM3,-0.75L3.75,0.55L2.25,0.55ZM6,-0.75L6.75,0.55L5.25,0.55ZM9,-0.75L9.75,0.55L8.25,0.55ZM12,-0.75L12.75,0.55L11.25,0.55Z","M-0.8,0L12.8,0M0,-0.8L0.6,0L0,0.8L-0.6,0ZM3,-0.8L3.6,0L3,0.8L2.4,0ZM6,-0.8L6.6,0L6,0.8L5.4,0ZM9,-0.8L9.6,0L9,0.8L8.4,0ZM12,-0.8L12.6,0L12,0.8L11.4,0Z","M-0.8,0L12.8,0M0,-0.9L0.21,-0.29L0.86,-0.28L0.34,0.11L0.53,0.73L0,0.36L-0.53,0.73L-0.34,0.11L-0.86,-0.28L-0.21,-0.29ZM3,-0.9L3.21,-0.29L3.86,-0.28L3.34,0.11L3.53,0.73L3,0.36L2.47,0.73L2.66,0.11L2.14,-0.28L2.79,-0.29ZM6,-0.9L6.21,-0.29L6.86,-0.28L6.34,0.11L6.53,0.73L6,0.36L5.47,0.73L5.66,0.11L5.14,-0.28L5.79,-0.29ZM9,-0.9L9.21,-0.29L9.86,-0.28L9.34,0.11L9.53,0.73L9,0.36L8.47,0.73L8.66,0.11L8.14,-0.28L8.79,-0.29ZM12,-0.9L12.21,-0.29L12.86,-0.28L12.34,0.11L12.53,0.73L12,0.36L11.47,0.73L11.66,0.11L11.14,-0.28L11.79,-0.29Z","M-0.8,0L12.8,0M0,-0.7L0,0.7M3,-0.7L3,0.7M6,-0.7L6,0.7M9,-0.7L9,0.7M12,-0.7L12,0.7","M-0.8,0L12.8,0M-0.4,-0.4L0.4,0.4M-0.4,0.4L0.4,-0.4M1.1,-0.4L1.9,0.4M1.1,0.4L1.9,-0.4M2.6,-0.4L3.4,0.4M2.6,0.4L3.4,-0.4M4.1,-0.4L4.9,0.4M4.1,0.4L4.9,-0.4M5.6,-0.4L6.4,0.4M5.6,0.4L6.4,-0.4M7.1,-0.4L7.9,0.4M7.1,0.4L7.9,-0.4M8.6,-0.4L9.4,0.4M8.6,0.4L9.4,-0.4M10.1,-0.4L10.9,0.4M10.1,0.4L10.9,-0.4M11.6,-0.4L12.4,0.4M11.6,0.4L12.4,-0.4","M-0.8,0L12.8,0M0.8,0A0.8,0.8,0,1,1,-0.8,0A0.8,0.8,0,1,1,0.8,0M3.8,0A0.8,0.8,0,1,1,2.2,0A0.8,0.8,0,1,1,3.8,0M6.8,0A0.8,0.8,0,1,1,5.2,0A0.8,0.8,0,1,1,6.8,0M9.8,0A0.8,0.8,0,1,1,8.2,0A0.8,0.8,0,1,1,9.8,0M12.8,0A0.8,0.8,0,1,1,11.2,0A0.8,0.8,0,1,1,12.8,0"]},
"legend":{"orient":"none","legendX":301,"legendY":-23,"title":null,"symbolSize":106,"labelOffset":62,"rowPadding":3,"labelFont":"DejaVu Sans Mono","labelFontSize":20,"labelColor":"#505050"}},
"stroke":{"field":"s","type":"nominal","scale":{"domain":["Y=0","Y=10","Y=30","Y=50","Y=70","Y=90","Y=110","Y=130"],"range":["#555555","#555555","#555555","#555555","#4a4a4a","#4a4a4a","#4a4a4a","#4a4a4a"]},"legend":{"orient":"none","legendX":301,"legendY":-23,"title":null,"symbolSize":106,"labelOffset":62,"rowPadding":3,"labelFont":"DejaVu Sans Mono","labelFontSize":20,"labelColor":"#505050"}},
"fill":{"field":"s","type":"nominal","scale":{"domain":["Y=0","Y=10","Y=30","Y=50","Y=70","Y=90","Y=110","Y=130"],"range":["transparent","transparent","transparent","transparent","#4a4a4a","transparent","transparent","#4a4a4a"]},"legend":{"orient":"none","legendX":301,"legendY":-23,"title":null,"symbolSize":106,"labelOffset":62,"rowPadding":3,"labelFont":"DejaVu Sans Mono","labelFontSize":20,"labelColor":"#505050"}},
"strokeWidth":{"field":"s","type":"nominal","scale":{"type":"ordinal","domain":["Y=0","Y=10","Y=30","Y=50","Y=70","Y=90","Y=110","Y=130"],"range":[1.2,1.2,1.2,1.2,2.6,2.6,2.6,2.6]},"legend":{"orient":"none","legendX":301,"legendY":-23,"title":null,"symbolSize":106,"labelOffset":62,"rowPadding":3,"labelFont":"DejaVu Sans Mono","labelFontSize":20,"labelColor":"#505050"}}}}
],
"resolve":{"scale":{"shape":"independent","fill":"independent","strokeWidth":"independent","stroke":"independent"},"axis":{"y":"independent"},"legend":{"shape":"independent","fill":"independent","strokeWidth":"independent","stroke":"independent"}}},
{"width":363,"height":455,"data":{"name":"right"},
"encoding":{
"x":{"field":"t","type":"quantitative","scale":{"domain":[0,325],"nice":false},"axis":{"title":"podstawa czasu (ms)","values":[0,10,20,30,40,50,60,70,80,90,100,110,120,130,140,150,160,170,180,190,200,210,220,230,240,250,260,270,280,290,300,310,320],"labelExpr":"datum.value % 100 === 0 ? datum.label : ''","labelFontSize":21,"labelPadding":4,"titleX":248,"titleY":54,"titleBaseline":"alphabetic","titleAlign":"center"}}},
"layer":[
{"mark":{"type":"line","interpolate":"monotone"},
"encoding":{
"y":{"field":"v","type":"quantitative","scale":{"domain":[0,8],"nice":false},"axis":{"orient":"left","title":"fazowa prędkość średnia (m/s)","values":[0,0.2,0.4,0.6,0.8,1,1.2,1.4,1.6,1.8,2,2.2,2.4,2.6,2.8,3,3.2,3.4,3.6,3.8,4,4.2,4.4,4.6,4.8,5,5.2,5.4,5.6,5.8,6,6.2,6.4,6.6,6.8,7,7.2,7.4,7.6,7.8,8],"labels":false,"titleX":-33,"titleY":168,"titleBaseline":"alphabetic","titleAlign":"center","titleAngle":-90}},
"order":{"field":"i","type":"quantitative"},
"stroke":{"field":"s","type":"nominal","scale":{"domain":["Y=150","Y=170","Y=190","Y=210","Y=230","Y=250","Y=270","Y=290","Y=310"],"range":["#606060","#606060","#5a5a5a","#555555","#474747","#474747","#474747","#555555","#4a4a4a"]},"legend":null},
"strokeWidth":{"field":"s","type":"nominal","scale":{"type":"ordinal","domain":["Y=150","Y=170","Y=190","Y=210","Y=230","Y=250","Y=270","Y=290","Y=310"],"range":[1.1,1.1,1.3,1.4,2.8,2.8,3.0,2.6,2.8]},"legend":null},
"strokeDash":{"field":"s","type":"nominal","scale":{"domain":["Y=150","Y=170","Y=190","Y=210","Y=230","Y=250","Y=270","Y=290","Y=310"],"range":[[1,0],[1,0],[1,0],[1,0],[1,0],[1,0],[1,0],[9,6],[1,0]]},"legend":null}}},
{"transform":[{"filter":"datum.i % 3 == 0"}],
"mark":{"type":"point","filled":true,"stroke":"#4f4f4f","strokeWidth":1.2,"opacity":1},
"encoding":{
"y":{"field":"v","type":"quantitative","axis":{"orient":"left","title":null,"values":[0,2,4,6,8],"ticks":false,"domain":false,"labelFontSize":15,"labelPadding":10}},
"shape":{"field":"s","type":"nominal","scale":{"domain":["Y=150","Y=170","Y=190","Y=210","Y=230","Y=250","Y=270","Y=290","Y=310"],"range":["circle","square","triangle-up","diamond","M0,-1L0.24,-0.32L0.95,-0.31L0.38,0.12L0.59,0.81L0,0.4L-0.59,0.81L-0.38,0.12L-0.95,-0.31L-0.24,-0.32Z","M-1,0L1,0M0,-1L0,1","M-0.7,-0.7L0.7,0.7M-0.7,0.7L0.7,-0.7","M0,-1L0.24,-0.32L0.95,-0.31L0.38,0.12L0.59,0.81L0,0.4L-0.59,0.81L-0.38,0.12L-0.95,-0.31L-0.24,-0.32Z","circle"]},"legend":null},
"fill":{"field":"s","type":"nominal","scale":{"domain":["Y=150","Y=170","Y=190","Y=210","Y=230","Y=250","Y=270","Y=290","Y=310"],"range":["transparent","transparent","transparent","transparent","#474747","transparent","transparent","#555555","#4a4a4a"]},"legend":null},
"size":{"value":70}}},
{"transform":[{"filter":"false"}],
"mark":{"type":"point","filled":true,"opacity":1},
"encoding":{
"y":{"field":"v","type":"quantitative","axis":null},
"shape":{"field":"s","type":"nominal","scale":{"domain":["Y=150","Y=170","Y=190","Y=210","Y=230","Y=250","Y=270","Y=290","Y=310"],"range":["M-0.8,0L12.8,0M0.7,0A0.7,0.7,0,1,1,-0.7,0A0.7,0.7,0,1,1,0.7,0M3.7,0A0.7,0.7,0,1,1,2.3,0A0.7,0.7,0,1,1,3.7,0M6.7,0A0.7,0.7,0,1,1,5.3,0A0.7,0.7,0,1,1,6.7,0M9.7,0A0.7,0.7,0,1,1,8.3,0A0.7,0.7,0,1,1,9.7,0M12.7,0A0.7,0.7,0,1,1,11.3,0A0.7,0.7,0,1,1,12.7,0","M-0.8,0L12.8,0M-0.65,-0.65L0.65,-0.65L0.65,0.65L-0.65,0.65ZM2.35,-0.65L3.65,-0.65L3.65,0.65L2.35,0.65ZM5.35,-0.65L6.65,-0.65L6.65,0.65L5.35,0.65ZM8.35,-0.65L9.65,-0.65L9.65,0.65L8.35,0.65ZM11.35,-0.65L12.65,-0.65L12.65,0.65L11.35,0.65Z","M-0.8,0.55L12.8,0.55M0,-0.75L0.75,0.55L-0.75,0.55ZM3,-0.75L3.75,0.55L2.25,0.55ZM6,-0.75L6.75,0.55L5.25,0.55ZM9,-0.75L9.75,0.55L8.25,0.55ZM12,-0.75L12.75,0.55L11.25,0.55Z","M-0.8,0L12.8,0M0,-0.8L0.6,0L0,0.8L-0.6,0ZM3,-0.8L3.6,0L3,0.8L2.4,0ZM6,-0.8L6.6,0L6,0.8L5.4,0ZM9,-0.8L9.6,0L9,0.8L8.4,0ZM12,-0.8L12.6,0L12,0.8L11.4,0Z","M-0.8,0L12.8,0M0,-0.9L0.21,-0.29L0.86,-0.28L0.34,0.11L0.53,0.73L0,0.36L-0.53,0.73L-0.34,0.11L-0.86,-0.28L-0.21,-0.29ZM3,-0.9L3.21,-0.29L3.86,-0.28L3.34,0.11L3.53,0.73L3,0.36L2.47,0.73L2.66,0.11L2.14,-0.28L2.79,-0.29ZM6,-0.9L6.21,-0.29L6.86,-0.28L6.34,0.11L6.53,0.73L6,0.36L5.47,0.73L5.66,0.11L5.14,-0.28L5.79,-0.29ZM9,-0.9L9.21,-0.29L9.86,-0.28L9.34,0.11L9.53,0.73L9,0.36L8.47,0.73L8.66,0.11L8.14,-0.28L8.79,-0.29ZM12,-0.9L12.21,-0.29L12.86,-0.28L12.34,0.11L12.53,0.73L12,0.36L11.47,0.73L11.66,0.11L11.14,-0.28L11.79,-0.29Z","M-0.8,0L12.8,0M0,-0.7L0,0.7M3,-0.7L3,0.7M6,-0.7L6,0.7M9,-0.7L9,0.7M12,-0.7L12,0.7","M-0.8,0L12.8,0M-0.4,-0.4L0.4,0.4M-0.4,0.4L0.4,-0.4M1.1,-0.4L1.9,0.4M1.1,0.4L1.9,-0.4M2.6,-0.4L3.4,0.4M2.6,0.4L3.4,-0.4M4.1,-0.4L4.9,0.4M4.1,0.4L4.9,-0.4M5.6,-0.4L6.4,0.4M5.6,0.4L6.4,-0.4M7.1,-0.4L7.9,0.4M7.1,0.4L7.9,-0.4M8.6,-0.4L9.4,0.4M8.6,0.4L9.4,-0.4M10.1,-0.4L10.9,0.4M10.1,0.4L10.9,-0.4M11.6,-0.4L12.4,0.4M11.6,0.4L12.4,-0.4","M-0.8,0L12.8,0M0,-0.9L0.21,-0.29L0.86,-0.28L0.34,0.11L0.53,0.73L0,0.36L-0.53,0.73L-0.34,0.11L-0.86,-0.28L-0.21,-0.29ZM3,-0.9L3.21,-0.29L3.86,-0.28L3.34,0.11L3.53,0.73L3,0.36L2.47,0.73L2.66,0.11L2.14,-0.28L2.79,-0.29ZM6,-0.9L6.21,-0.29L6.86,-0.28L6.34,0.11L6.53,0.73L6,0.36L5.47,0.73L5.66,0.11L5.14,-0.28L5.79,-0.29ZM9,-0.9L9.21,-0.29L9.86,-0.28L9.34,0.11L9.53,0.73L9,0.36L8.47,0.73L8.66,0.11L8.14,-0.28L8.79,-0.29ZM12,-0.9L12.21,-0.29L12.86,-0.28L12.34,0.11L12.53,0.73L12,0.36L11.47,0.73L11.66,0.11L11.14,-0.28L11.79,-0.29Z","M-0.8,0L12.8,0M0.8,0A0.8,0.8,0,1,1,-0.8,0A0.8,0.8,0,1,1,0.8,0M3.8,0A0.8,0.8,0,1,1,2.2,0A0.8,0.8,0,1,1,3.8,0M6.8,0A0.8,0.8,0,1,1,5.2,0A0.8,0.8,0,1,1,6.8,0M9.8,0A0.8,0.8,0,1,1,8.2,0A0.8,0.8,0,1,1,9.8,0M12.8,0A0.8,0.8,0,1,1,11.2,0A0.8,0.8,0,1,1,12.8,0"]},
"legend":{"orient":"none","legendX":43,"legendY":-19,"title":null,"symbolSize":127,"labelOffset":66,"rowPadding":1.8,"labelFont":"DejaVu Sans Mono","labelFontSize":19,"labelColor":"#505050","encode":{"labels":{"update":{"fill":{"signal":"indexof(['Y=290','Y=310'], datum.value) >= 0 ? '#9a9a9a' : '#505050'"}}}}}},
"stroke":{"field":"s","type":"nominal","scale":{"domain":["Y=150","Y=170","Y=190","Y=210","Y=230","Y=250","Y=270","Y=290","Y=310"],"range":["#555555","#555555","#555555","#555555","#4a4a4a","#4a4a4a","#4a4a4a","#4a4a4a","#4a4a4a"]},"legend":{"orient":"none","legendX":43,"legendY":-19,"title":null,"symbolSize":127,"labelOffset":66,"rowPadding":1.8,"labelFont":"DejaVu Sans Mono","labelFontSize":19,"labelColor":"#505050","encode":{"labels":{"update":{"fill":{"signal":"indexof(['Y=290','Y=310'], datum.value) >= 0 ? '#9a9a9a' : '#505050'"}}}}}},
"fill":{"field":"s","type":"nominal","scale":{"domain":["Y=150","Y=170","Y=190","Y=210","Y=230","Y=250","Y=270","Y=290","Y=310"],"range":["transparent","transparent","transparent","transparent","#4a4a4a","transparent","transparent","#4a4a4a","#4a4a4a"]},"legend":{"orient":"none","legendX":43,"legendY":-19,"title":null,"symbolSize":127,"labelOffset":66,"rowPadding":1.8,"labelFont":"DejaVu Sans Mono","labelFontSize":19,"labelColor":"#505050","encode":{"labels":{"update":{"fill":{"signal":"indexof(['Y=290','Y=310'], datum.value) >= 0 ? '#9a9a9a' : '#505050'"}}}}}},
"strokeWidth":{"field":"s","type":"nominal","scale":{"type":"ordinal","domain":["Y=150","Y=170","Y=190","Y=210","Y=230","Y=250","Y=270","Y=290","Y=310"],"range":[1.2,1.2,1.2,1.2,2.6,2.6,2.6,2.6,2.6]},"legend":{"orient":"none","legendX":43,"legendY":-19,"title":null,"symbolSize":127,"labelOffset":66,"rowPadding":1.8,"labelFont":"DejaVu Sans Mono","labelFontSize":19,"labelColor":"#505050","encode":{"labels":{"update":{"fill":{"signal":"indexof(['Y=290','Y=310'], datum.value) >= 0 ? '#9a9a9a' : '#505050'"}}}}}}}}
],
"resolve":{"scale":{"shape":"independent","fill":"independent","strokeWidth":"independent","stroke":"independent"},"axis":{"y":"independent"},"legend":{"shape":"independent","fill":"independent","strokeWidth":"independent","stroke":"independent"}}}
],
"resolve":{"scale":{"x":"independent","y":"independent","stroke":"independent","shape":"independent","fill":"independent","strokeWidth":"independent","strokeDash":"independent"},"legend":{"stroke":"independent","shape":"independent","fill":"independent","strokeWidth":"independent","strokeDash":"independent"}}
}
